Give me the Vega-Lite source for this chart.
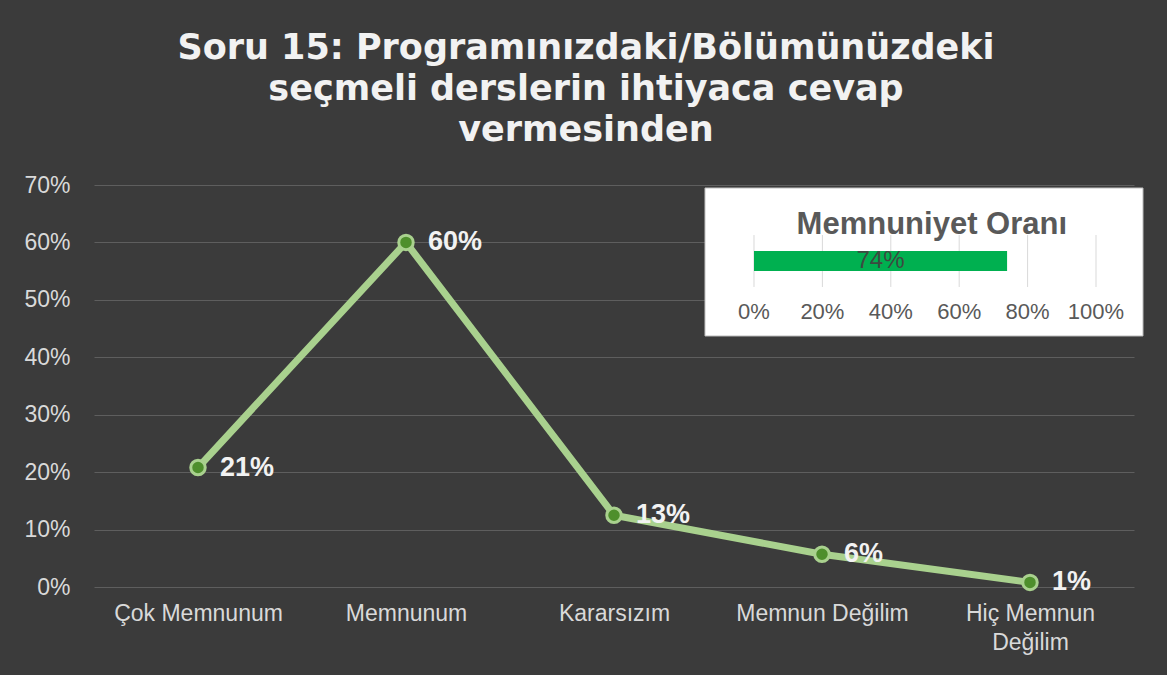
{
  "$schema": "https://vega.github.io/schema/vega-lite/v6.json",
  "width": 1040,
  "height": 402,
  "autosize": {"type": "none"},
  "padding": {"left": 94, "top": 185, "right": 33, "bottom": 88},
  "background": "#3b3b3b",
  "config": {
    "view": {"stroke": null},
    "font": "Liberation Sans"
  },
  "title": {
    "text": ["Soru 15: Programınızdaki/Bölümünüzdeki", "seçmeli derslerin ihtiyaca cevap", "vermesinden"],
    "font": "DejaVu Sans",
    "fontSize": 35,
    "fontWeight": "bold",
    "color": "#f2f2f2",
    "lineHeight": 41,
    "anchor": "middle",
    "dx": -28,
    "offset": 26
  },
  "datasets": {
    "responses": [
      {"category": "Çok Memnunum", "share": 0.208, "label": "21%"},
      {"category": "Memnunum", "share": 0.60, "label": "60%"},
      {"category": "Kararsızım", "share": 0.125, "label": "13%"},
      {"category": "Memnun Değilim", "share": 0.057, "label": "6%"},
      {"category": "Hiç Memnun Değilim", "share": 0.008, "label": "1%"}
    ],
    "satisfaction": [
      {"metric": "Memnuniyet Oranı", "rate": 0.74}
    ],
    "insetTicks": [
      {"tick": 0}, {"tick": 0.2}, {"tick": 0.4}, {"tick": 0.6}, {"tick": 0.8}, {"tick": 1.0}
    ]
  },
  "layer": [
    {
      "data": {"name": "responses"},
      "encoding": {
        "x": {
          "field": "category",
          "type": "nominal",
          "sort": null,
          "scale": {"type": "point", "padding": 0.5},
          "axis": {
            "title": null,
            "labelAngle": 0,
            "labelFontSize": 23,
            "labelColor": "#d9d9d9",
            "labelPadding": 15,
            "labelLimit": 300,
            "labelLineHeight": 29,
            "domain": false,
            "ticks": false,
            "grid": false,
            "labelExpr": "datum.value == 'Hiç Memnun Değilim' ? ['Hiç Memnun', 'Değilim'] : datum.value"
          }
        },
        "y": {
          "field": "share",
          "type": "quantitative",
          "scale": {"domain": [0, 0.7], "nice": false},
          "axis": {
            "title": null,
            "format": ".0%",
            "values": [0, 0.1, 0.2, 0.3, 0.4, 0.5, 0.6, 0.7],
            "labelFontSize": 23,
            "labelColor": "#d9d9d9",
            "labelPadding": 24,
            "domain": false,
            "ticks": false,
            "gridColor": "#5e5e5e",
            "gridWidth": 1
          }
        }
      },
      "layer": [
        {"mark": {"type": "line", "color": "#a9d18e", "strokeWidth": 7}},
        {"mark": {"type": "point", "shape": "circle", "filled": true, "size": 210, "fill": "#4e8f2c", "stroke": "#a9d18e", "strokeWidth": 3, "opacity": 1}},
        {"mark": {"type": "text", "align": "left", "baseline": "middle", "dx": 22, "fontSize": 27, "fontWeight": "bold", "color": "#f2f2f2"},
         "encoding": {"text": {"field": "label", "type": "nominal"}}}
      ]
    },
    {
      "layer": [
        {
          "data": {"name": "satisfaction"},
          "mark": {"type": "rect", "fill": "#ffffff", "stroke": "#bfbfbf", "strokeWidth": 1},
          "encoding": {
            "x": {"datum": -0.1433, "type": "quantitative", "scale": {"domain": [-1.9298, 1.1111], "nice": false, "zero": false}, "axis": null},
            "x2": {"datum": 1.1374},
            "y": {"datum": 0.6948, "type": "quantitative", "scale": {"domain": [0, 0.7], "nice": false}, "axis": null},
            "y2": {"datum": 0.4371}
          }
        },
        {
          "data": {"name": "insetTicks"},
          "mark": {"type": "rule", "color": "#d9d9d9", "strokeWidth": 1},
          "encoding": {
            "x": {"field": "tick", "type": "quantitative", "scale": {"domain": [-1.9298, 1.1111], "nice": false, "zero": false}, "axis": null},
            "y": {"datum": 0.6129, "type": "quantitative", "scale": {"domain": [0, 0.7], "nice": false}, "axis": null},
            "y2": {"datum": 0.5224}
          }
        },
        {
          "data": {"name": "insetTicks"},
          "mark": {"type": "text", "align": "center", "baseline": "middle", "fontSize": 22, "color": "#595959"},
          "encoding": {
            "x": {"field": "tick", "type": "quantitative", "scale": {"domain": [-1.9298, 1.1111], "nice": false, "zero": false}, "axis": null},
            "y": {"datum": 0.4788, "type": "quantitative", "scale": {"domain": [0, 0.7], "nice": false}, "axis": null},
            "text": {"field": "tick", "type": "quantitative", "format": ".0%"}
          }
        },
        {
          "data": {"name": "satisfaction"},
          "mark": {"type": "rect", "fill": "#00b050"},
          "encoding": {
            "x": {"field": "rate", "type": "quantitative", "scale": {"domain": [-1.9298, 1.1111], "nice": false, "zero": false}, "axis": null},
            "x2": {"datum": 0},
            "y": {"datum": 0.5851, "type": "quantitative", "scale": {"domain": [0, 0.7], "nice": false}, "axis": null},
            "y2": {"datum": 0.5502}
          }
        },
        {
          "data": {"name": "satisfaction"},
          "transform": [{"calculate": "datum.rate / 2", "as": "mid"}],
          "mark": {"type": "text", "align": "center", "baseline": "middle", "fontSize": 24, "color": "#3d4a40"},
          "encoding": {
            "x": {"field": "mid", "type": "quantitative", "scale": {"domain": [-1.9298, 1.1111], "nice": false, "zero": false}, "axis": null},
            "y": {"datum": 0.5676, "type": "quantitative", "scale": {"domain": [0, 0.7], "nice": false}, "axis": null},
            "text": {"field": "rate", "type": "quantitative", "format": ".0%"}
          }
        },
        {
          "data": {"name": "satisfaction"},
          "mark": {"type": "text", "align": "center", "baseline": "middle", "fontSize": 31, "fontWeight": "bold", "color": "#595959"},
          "encoding": {
            "x": {"datum": 0.52, "type": "quantitative", "scale": {"domain": [-1.9298, 1.1111], "nice": false, "zero": false}, "axis": null},
            "y": {"datum": 0.6303, "type": "quantitative", "scale": {"domain": [0, 0.7], "nice": false}, "axis": null},
            "text": {"field": "metric", "type": "nominal"}
          }
        }
      ]
    }
  ],
  "resolve": {"scale": {"x": "independent", "y": "independent"}}
}
